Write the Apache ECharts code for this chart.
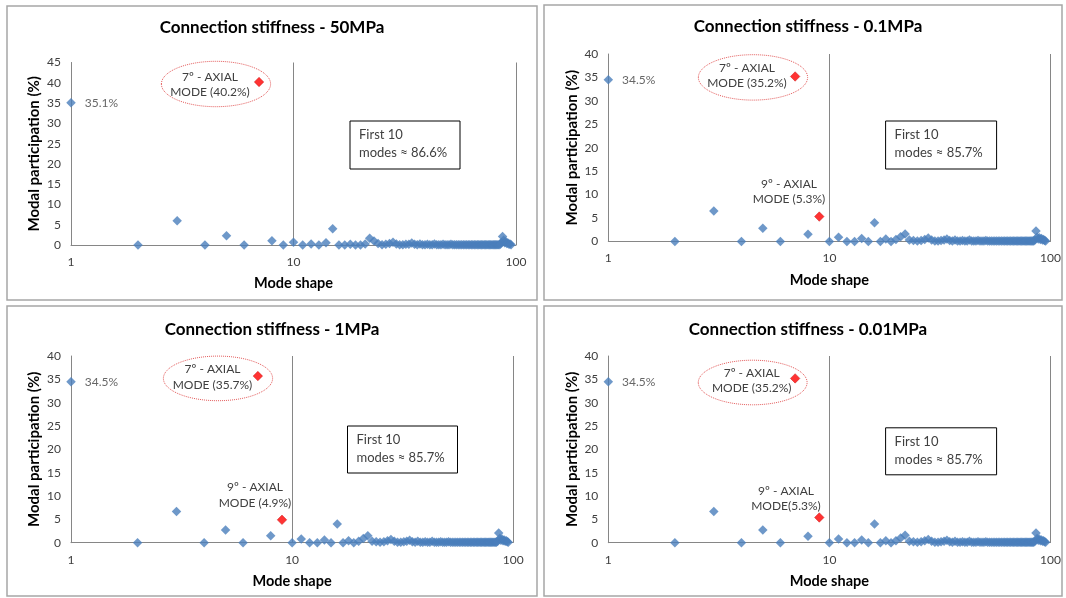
<!DOCTYPE html>
<html><head><meta charset="utf-8">
<script src="https://cdn.jsdelivr.net/npm/echarts@6/dist/echarts.min.js"></script>
<style>html,body{margin:0;padding:0;background:#fff}#c{width:1066px;height:598px}</style>
</head><body><div id="c"></div>
<script>
// ---------- DATA ----------
const panelTitles = [
  'Connection stiffness - 50MPa',
  'Connection stiffness - 0.1MPa',
  'Connection stiffness - 1MPa',
  'Connection stiffness - 0.01MPa'
];
const yTickMax = [45, 40, 40, 40];
const xTickLabels = ['1', '10', '100'];

// modal participation (%) of modes 1..95
const values50MPa = [
  35.1, 0, 6.0, 0, 2.3, 0, 40.2, 1.1, 0, 0.7,
  0, 0.3, 0, 0.6, 4.0, 0, 0, 0.2, 0, 0,
  0.3, 1.7, 1.0, 0.4, 0.1, 0.2, 0.4, 0.7, 0.3, 0.1,
  0.1, 0.2, 0.2, 0.5, 0.2, 0.1, 0.3, 0.1, 0.1, 0.2,
  0.1, 0.1, 0.3, 0.1, 0.1, 0.1, 0.2, 0.1, 0.1, 0.1,
  0.2, 0.1, 0.1, 0.1, 0.1, 0.1, 0.1, 0.1, 0.1, 0.1,
  0.1, 0.1, 0.1, 0.1, 0.1, 0.1, 0.1, 0.1, 0.1, 0.1,
  0.1, 0.1, 0.1, 0.1, 0.1, 0.1, 0.1, 0.1, 0.1, 0.1,
  0.1, 0.1, 0.1, 0.1, 0.2, 0.6, 2.1, 1.2, 0.6, 0.9,
  0.4, 0.5, 0.2, 0.3, 0.1
];
const values01MPa = [
  34.5, 0, 6.5, 0, 2.8, 0, 35.2, 1.5, 5.3, 0,
  0.9, 0, 0, 0.6, 0, 4.0, 0, 0.5, 0, 0.4,
  1.0, 1.6, 0.3, 0.2, 0.1, 0.2, 0.4, 0.7, 0.3, 0.1,
  0.1, 0.2, 0.3, 0.5, 0.2, 0.1, 0.3, 0.1, 0.1, 0.2,
  0.1, 0.1, 0.3, 0.1, 0.1, 0.1, 0.2, 0.1, 0.1, 0.1,
  0.2, 0.1, 0.1, 0.1, 0.1, 0.1, 0.1, 0.1, 0.1, 0.1,
  0.1, 0.1, 0.1, 0.1, 0.1, 0.1, 0.1, 0.1, 0.1, 0.1,
  0.1, 0.1, 0.1, 0.1, 0.1, 0.1, 0.1, 0.1, 0.1, 0.1,
  0.1, 0.1, 0.1, 0.1, 0.3, 2.2, 0.9, 0.5, 0.8, 0.4,
  0.6, 0.3, 0.4, 0.2, 0.1
];
const values1MPa = [
  34.5, 0, 6.7, 0, 2.7, 0, 35.7, 1.5, 4.9, 0,
  0.8, 0, 0, 0.6, 0, 4.0, 0, 0.4, 0, 0.3,
  0.9, 1.5, 0.3, 0.2, 0.1, 0.2, 0.4, 0.7, 0.3, 0.1,
  0.1, 0.2, 0.3, 0.5, 0.2, 0.1, 0.3, 0.1, 0.1, 0.2,
  0.1, 0.1, 0.3, 0.1, 0.1, 0.1, 0.2, 0.1, 0.1, 0.1,
  0.2, 0.1, 0.1, 0.1, 0.1, 0.1, 0.1, 0.1, 0.1, 0.1,
  0.1, 0.1, 0.1, 0.1, 0.1, 0.1, 0.1, 0.1, 0.1, 0.1,
  0.1, 0.1, 0.1, 0.1, 0.1, 0.1, 0.1, 0.1, 0.1, 0.1,
  0.1, 0.1, 0.1, 0.1, 0.3, 2.1, 0.9, 0.5, 0.8, 0.4,
  0.6, 0.3, 0.4, 0.2, 0.1
];
const values001MPa = [
  34.5, 0, 6.7, 0, 2.7, 0, 35.2, 1.4, 5.4, 0,
  0.8, 0, 0, 0.6, 0, 4.0, 0, 0.4, 0, 0.4,
  1.0, 1.6, 0.3, 0.2, 0.1, 0.2, 0.4, 0.7, 0.3, 0.1,
  0.1, 0.2, 0.3, 0.5, 0.2, 0.1, 0.3, 0.1, 0.1, 0.2,
  0.1, 0.1, 0.3, 0.1, 0.1, 0.1, 0.2, 0.1, 0.1, 0.1,
  0.2, 0.1, 0.1, 0.1, 0.1, 0.1, 0.1, 0.1, 0.1, 0.1,
  0.1, 0.1, 0.1, 0.1, 0.1, 0.1, 0.1, 0.1, 0.1, 0.1,
  0.1, 0.1, 0.1, 0.1, 0.1, 0.1, 0.1, 0.1, 0.1, 0.1,
  0.1, 0.1, 0.1, 0.1, 0.3, 2.1, 0.9, 0.5, 0.8, 0.4,
  0.6, 0.3, 0.4, 0.2, 0.1
];
const axialModes50MPa = [7];
const axialModes01MPa = [7, 9];
const axialModes1MPa = [7, 9];
const axialModes001MPa = [7, 9];

const firstModeLabels = ['35.1%', '34.5%', '34.5%', '34.5%'];
const axial7Notes = [['7º - AXIAL', 'MODE (40.2%)'], ['7º - AXIAL', 'MODE (35.2%)'], ['7º - AXIAL', 'MODE (35.7%)'], ['7º - AXIAL', 'MODE (35.2%)']];
const axial9Notes = [null, ['9º - AXIAL', 'MODE (5.3%)'], ['9º - AXIAL', 'MODE (4.9%)'], ['9º - AXIAL', 'MODE(5.3%)']];
const first10Notes = [['First 10', 'modes ≈ 86.6%'], ['First 10', 'modes ≈ 85.7%'], ['First 10', 'modes ≈ 85.7%'], ['First 10', 'modes ≈ 85.7%']];

const panelValues = [values50MPa, values01MPa, values1MPa, values001MPa];
const panelAxial = [axialModes50MPa, axialModes01MPa, axialModes1MPa, axialModes001MPa];

// ---------- LAYOUT ----------
const FONT = 'Lato, "Liberation Sans", sans-serif';
const TXT = '#404040';
const layout = [
  { border: [7, 6, 530, 294], grid: [71, 62.5, 445, 182.6], title: [272, 27.5],
    ell: [216, 84, 54.6, 22.7], n7: [210, 77, 92], n9: null, box: [350, 121, 110, 48] },
  { border: [544, 5, 518, 295], grid: [608.3, 54, 442.2, 187.4], title: [808, 26.5],
    ell: [753, 77.4, 54.6, 22.7], n7: [747, 68, 83], n9: [789, 184, 199.5], box: [885.6, 121, 111, 48] },
  { border: [7, 306, 530, 290], grid: [71, 356, 442.2, 186.7], title: [272, 329.5],
    ell: [218, 378.4, 54.6, 22.3], n7: [212.5, 369.6, 385.2], n9: [255, 487.6, 503.2], box: [347.5, 426, 110, 47] },
  { border: [544, 306, 518, 290], grid: [608.3, 356, 442.2, 186.7], title: [808, 329.5],
    ell: [752.7, 382.5, 54.4, 22.3], n7: [751.7, 372.7, 388.2], n9: [786, 490.7, 506], box: [885.6, 427.8, 111, 47] }
];

const grids = [], xAxes = [], yAxes = [], series = [], titles = [], graphics = [];

layout.forEach((L, i) => {
  graphics.push({ type: 'rect', shape: { x: L.border[0], y: L.border[1], width: L.border[2], height: L.border[3] },
    style: { fill: 'none', stroke: '#a6a6a6', lineWidth: 1.5 }, z: 1 });
  grids.push({ left: L.grid[0], top: L.grid[1], width: L.grid[2], height: L.grid[3], containLabel: false });
  titles.push({ text: panelTitles[i], left: L.title[0], top: L.title[1], textAlign: 'center', textVerticalAlign: 'middle', padding: 0,
    textStyle: { fontFamily: FONT, fontSize: 17, fontWeight: 'bold', color: '#000' } });
  xAxes.push({ type: 'log', logBase: 10, min: 1, max: 100, gridIndex: i,
    name: 'Mode shape', nameLocation: 'middle', nameGap: 31,
    nameTextStyle: { fontFamily: FONT, fontSize: 14.5, fontWeight: 'bold', color: '#000' },
    axisLine: { show: true, lineStyle: { color: '#868686', width: 1 } },
    axisTick: { show: false },
    axisLabel: { fontFamily: FONT, fontSize: 12, color: TXT, margin: 11,
      formatter: v => xTickLabels.includes(String(Math.round(v))) ? String(Math.round(v)) : '' },
    splitLine: { show: true, lineStyle: { color: '#868686', width: 1 } } });
  yAxes.push({ type: 'value', min: 0, max: yTickMax[i], interval: 5, gridIndex: i,
    name: 'Modal participation (%)', nameLocation: 'middle', nameGap: 29, nameRotate: 90,
    nameTextStyle: { fontFamily: FONT, fontSize: 15, fontWeight: 'bold', color: '#000' },
    axisLine: { show: true, lineStyle: { color: '#868686', width: 1 } },
    axisTick: { show: false },
    axisLabel: { fontFamily: FONT, fontSize: 12, color: TXT, margin: 10 },
    splitLine: { show: false } });

  const vals = panelValues[i], axial = panelAxial[i];
  const blue = [], red = [];
  vals.forEach((v, k) => {
    const mode = k + 1;
    if (axial.includes(mode)) red.push([mode, v]);
    else if (mode === 1) blue.push({ value: [mode, v], label: { show: true, position: 'right', distance: 9,
      formatter: firstModeLabels[i], fontFamily: FONT, fontSize: 12, color: TXT } });
    else blue.push([mode, v]);
  });
  series.push({ type: 'scatter', xAxisIndex: i, yAxisIndex: i, symbol: 'diamond', symbolSize: 9.5,
    itemStyle: { color: '#4a7ebb' }, data: blue, z: 3, silent: true });
  series.push({ type: 'scatter', xAxisIndex: i, yAxisIndex: i, symbol: 'diamond', symbolSize: 9.5,
    itemStyle: { color: '#ff0000', borderColor: '#c00000', borderWidth: 0.5 }, data: red, z: 4, silent: true });

  // annotations
  graphics.push({ type: 'ellipse', shape: { cx: L.ell[0], cy: L.ell[1], rx: L.ell[2], ry: L.ell[3] },
    style: { fill: 'none', stroke: '#e45c5c', lineWidth: 1, lineDash: [1, 1] }, z: 5 });
  axial7Notes[i].forEach((t, j) => graphics.push({ type: 'text', x: L.n7[0], y: L.n7[1 + j], z: 6,
    style: { text: t, align: 'center', verticalAlign: 'middle', font: '12px ' + FONT, fill: TXT } }));
  if (L.n9) axial9Notes[i].forEach((t, j) => graphics.push({ type: 'text', x: L.n9[0], y: L.n9[1 + j], z: 6,
    style: { text: t, align: 'center', verticalAlign: 'middle', font: '12px ' + FONT, fill: TXT } }));
  graphics.push({ type: 'rect', shape: { x: L.box[0], y: L.box[1], width: L.box[2], height: L.box[3] },
    style: { fill: '#fff', stroke: '#000', lineWidth: 1 }, z: 5 });
  first10Notes[i].forEach((t, j) => graphics.push({ type: 'text', x: L.box[0] + 9, y: L.box[1] + 14 + j * 17.6, z: 6,
    style: { text: t, align: 'left', verticalAlign: 'middle', font: '13px ' + FONT, fill: TXT } }));
});

const chart = echarts.init(document.getElementById('c'), null, { renderer: 'canvas' });
chart.setOption({
  animation: false,
  backgroundColor: '#fff',
  title: titles,
  grid: grids,
  xAxis: xAxes,
  yAxis: yAxes,
  series: series,
  graphic: graphics
});
</script>
</body></html>
